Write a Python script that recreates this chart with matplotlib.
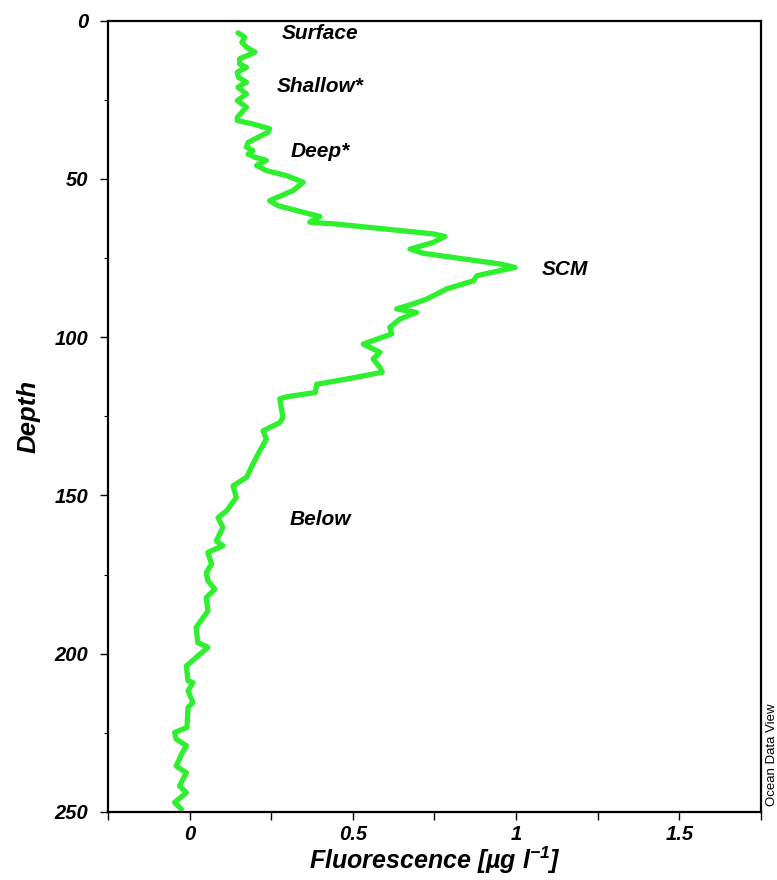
import matplotlib
matplotlib.use("Agg")
import matplotlib.pyplot as plt
from matplotlib.ticker import MultipleLocator, FixedLocator

plt.rcParams['font.family'] = ['Liberation Sans', 'DejaVu Sans']
plt.rcParams['mathtext.fontset'] = 'custom'
plt.rcParams['mathtext.rm'] = 'Liberation Sans:bold:italic'
plt.rcParams['mathtext.it'] = 'Liberation Sans:bold:italic'
plt.rcParams['mathtext.bf'] = 'Liberation Sans:bold:italic'

# Fluorescence profile: depth (m) and fluorescence (ug/l)
depth = [3.9, 5.3, 6.9, 8.5, 10.0, 12.1, 13.7, 14.8, 16.3, 18.0, 19.5, 21.1,
         23.2, 25.3, 27.4, 30.6, 31.6, 32.7, 34.2, 35.3, 38.5, 40.0, 41.1,
         42.2, 43.2, 44.2, 45.8, 47.4, 49.0, 51.1, 53.7, 56.9, 58.5, 61.1,
         61.9, 63.7, 64.3, 67.4, 68.2, 70.1, 72.2, 73.5, 75.3, 76.9, 78.0,
         79.0, 80.6, 82.2, 84.8, 88.0, 89.5, 91.1, 92.2, 94.3, 96.9, 99.0,
         102.2, 104.8, 106.9, 109.6, 111.1, 112.9, 114.9, 117.5, 118.8,
         119.5, 122.0, 125.4, 127.0, 129.6, 132.2, 135.9, 140.1, 144.3,
         147.0, 150.7, 154.9, 157.0, 160.1, 164.4, 165.9, 168.0, 171.7,
         174.4, 177.0, 179.6, 182.3, 186.5, 191.7, 196.5, 198.0, 201.2,
         203.9, 208.6, 209.1, 211.8, 215.4, 217.0, 223.3, 224.9, 227.0,
         229.1, 231.8, 235.5, 237.6, 241.8, 243.9, 247.0, 249.1]
fluorescence = [0.148, 0.169, 0.160, 0.175, 0.200, 0.153, 0.153, 0.174, 0.146,
                0.150, 0.174, 0.148, 0.174, 0.146, 0.174, 0.146, 0.146, 0.194,
                0.245, 0.240, 0.179, 0.174, 0.194, 0.179, 0.200, 0.235, 0.205,
                0.235, 0.297, 0.348, 0.317, 0.245, 0.271, 0.368, 0.399, 0.368,
                0.450, 0.746, 0.782, 0.746, 0.675, 0.715, 0.838, 0.951, 0.997,
                0.951, 0.880, 0.869, 0.787, 0.726, 0.685, 0.634, 0.695, 0.644,
                0.613, 0.619, 0.532, 0.583, 0.562, 0.583, 0.590, 0.500, 0.389,
                0.385, 0.300, 0.276, 0.280, 0.286, 0.276, 0.225, 0.235, 0.215,
                0.194, 0.174, 0.133, 0.143, 0.113, 0.087, 0.102, 0.082, 0.102,
                0.056, 0.067, 0.051, 0.056, 0.077, 0.051, 0.056, 0.020, 0.025,
                0.056, 0.020, -0.010, -0.005, 0.010, -0.005, 0.010, -0.005,
                -0.008, -0.046, -0.041, -0.010, -0.025, -0.041, -0.010, -0.031,
                -0.010, -0.046, -0.025]

# Layer annotations: name, fluorescence position, depth position
layer_names = ["Surface", "Shallow*", "Deep*", "SCM", "Below"]
layer_x = [0.40, 0.40, 0.40, 1.15, 0.40]
layer_depth = [4.2, 21.0, 41.5, 78.5, 157.5]

x_tick_values = [0, 0.5, 1, 1.5]
x_tick_labels = ["0", "0.5", "1", "1.5"]
y_tick_values = [0, 50, 100, 150, 200, 250]

fig = plt.figure(figsize=(7.77, 8.80), dpi=100)
ax = fig.add_axes([0.139, 0.0773, 0.9794 - 0.139, 0.9767 - 0.0773])

ax.plot(fluorescence, depth, color='#2ef02e', lw=3.8,
        solid_capstyle='round', solid_joinstyle='round')

ax.set_xlim(-0.25, 1.75)
ax.set_ylim(250, 0)

ax.xaxis.set_major_locator(FixedLocator(x_tick_values))
ax.xaxis.set_minor_locator(MultipleLocator(0.25))
ax.set_xticklabels(x_tick_labels)
ax.yaxis.set_major_locator(FixedLocator(y_tick_values))
ax.yaxis.set_minor_locator(MultipleLocator(25))

for lab in ax.get_xticklabels() + ax.get_yticklabels():
    lab.set_fontsize(14.5)
    lab.set_fontweight('bold')
    lab.set_fontstyle('italic')

ax.tick_params(axis='x', which='both', direction='out', length=5.5, width=1.0, pad=4)
ax.tick_params(axis='y', which='major', direction='out', length=6, width=1.0, pad=8)
ax.tick_params(axis='y', which='minor', direction='out', length=3, width=0.8)

for sp in ax.spines.values():
    sp.set_linewidth(1.6)

ax.set_xlabel("Fluorescence [µg l$^{-1}$]", fontsize=18,
              fontweight='bold', fontstyle='italic', labelpad=0)
ax.set_ylabel("Depth", fontsize=18.5, fontweight='bold', fontstyle='italic',
              labelpad=10)

for name, xv, dv in zip(layer_names, layer_x, layer_depth):
    ax.text(xv, dv, name, fontsize=15, fontweight='bold', fontstyle='italic',
            ha='center', va='center')

fig.text(0.994, 0.142, "Ocean Data View", rotation=90, fontsize=9.5,
         ha='center', va='center')

fig.savefig("out.png", dpi=100)
